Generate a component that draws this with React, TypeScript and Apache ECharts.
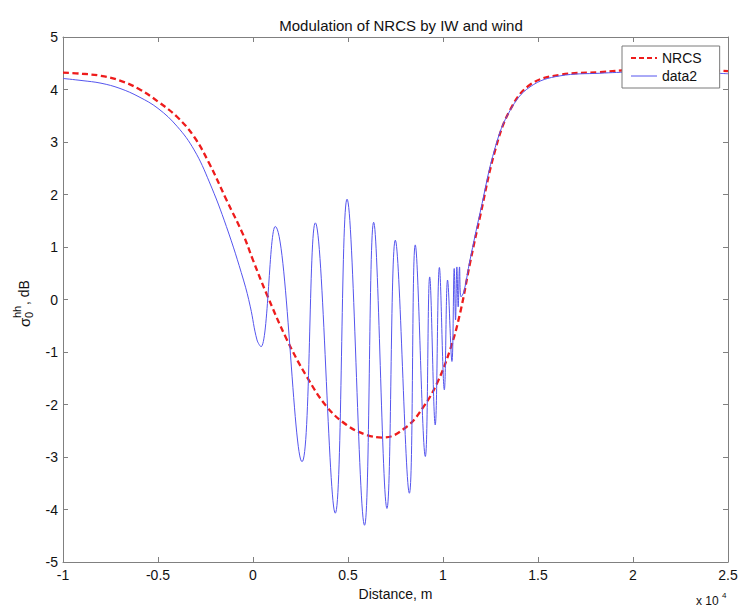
import React, { useEffect, useRef } from "react";
import * as echarts from "echarts";

// Distance in units of 1e4 m
const nrcsX = [-1.0, -0.9, -0.8, -0.7, -0.6, -0.5, -0.4, -0.31, -0.23, -0.14, -0.05, 0.0, 0.07, 0.179, 0.283, 0.388, 0.493, 0.598, 0.686, 0.81, 0.898, 0.968, 1.037, 1.09, 1.142, 1.195, 1.275, 1.353, 1.458, 1.616, 1.826, 2.0, 2.353, 2.5];
const nrcsY = [4.32, 4.3, 4.26, 4.17, 4.01, 3.77, 3.48, 3.1, 2.59, 1.9, 1.22, 0.75, 0.12, -0.77, -1.47, -2.04, -2.39, -2.58, -2.63, -2.42, -2.04, -1.6, -0.96, -0.26, 0.69, 1.58, 2.85, 3.61, 4.09, 4.28, 4.33, 4.37, 4.37, 4.35];

const data2X = [-1.0, -0.9, -0.8, -0.7, -0.6, -0.5, -0.4, -0.31, -0.23, -0.14, -0.05, -0.014, 0.021, 0.042, 0.117, 0.258, 0.328, 0.433, 0.495, 0.587, 0.635, 0.705, 0.749, 0.823, 0.854, 0.907, 0.93, 0.959, 0.981, 1.007, 1.024, 1.047, 1.059, 1.066, 1.073, 1.08, 1.087, 1.095, 1.11, 1.142, 1.195, 1.275, 1.353, 1.458, 1.616, 1.826, 2.0, 2.353, 2.5];
const data2Y = [4.21, 4.17, 4.12, 4.02, 3.86, 3.64, 3.3, 2.85, 2.24, 1.39, 0.37, -0.14, -0.77, -0.9, 1.39, -3.09, 1.46, -4.07, 1.91, -4.3, 1.47, -3.98, 1.13, -3.69, 1.04, -2.99, 0.43, -2.39, 0.61, -1.72, 0.37, -1.18, 0.59, -0.39, 0.62, -0.14, 0.62, 0.05, 0.15, 0.75, 1.65, 2.9, 3.6, 4.05, 4.26, 4.31, 4.33, 4.32, 4.3];

const xTicks = [-1, -0.5, 0, 0.5, 1, 1.5, 2, 2.5];
const xTickLabels = ["-1", "-0.5", "0", "0.5", "1", "1.5", "2", "2.5"];
const yTicks = [-5, -4, -3, -2, -1, 0, 1, 2, 3, 4, 5];
const yTickLabels = ["-5", "-4", "-3", "-2", "-1", "0", "1", "2", "3", "4", "5"];

const FONT = "Liberation Sans, Arial, sans-serif";
const AXIS_COLOR = "#808080";
const TEXT_COLOR = "#111";
const RED = "#ee1c1c";
const BLUE = "#5555ee";

function fmt(ticks: number[], labels: string[]) {
  return (v: number) => {
    const i = ticks.findIndex((t) => Math.abs(t - v) < 1e-9);
    return i >= 0 ? labels[i] : "";
  };
}

export default function App() {
  const ref = useRef<HTMLDivElement>(null);
  useEffect(() => {
    document.body.style.margin = "0";
    if (!ref.current) return;
    const chart = echarts.init(ref.current, null, { renderer: "svg" });
    const left = 63, right = 13, top = 37, bottom = 46;
    const axisCommon = {
      axisLine: { show: true, onZero: false, lineStyle: { color: AXIS_COLOR, width: 1 } },
      axisTick: { show: true, inside: true, length: 5, lineStyle: { color: AXIS_COLOR } },
      splitLine: { show: false },
    };
    chart.setOption({
      animation: false,
      backgroundColor: "#fff",
      title: {
        text: "Modulation of NRCS by IW and wind",
        left: 396,
        textAlign: "center",
        top: 13,
        textStyle: { fontFamily: FONT, fontSize: 15, fontWeight: "normal", color: TEXT_COLOR },
      },
      grid: { left, right, top, bottom, containLabel: false, outerBoundsMode: "none" },
      legend: {
        data: [
          { name: "NRCS", itemStyle: { opacity: 0 }, lineStyle: { color: RED, width: 2, type: [5, 3] } },
          { name: "data2", itemStyle: { opacity: 0 }, lineStyle: { color: BLUE, width: 1 } },
        ],
        orient: "vertical",
        left: 622,
        top: 46,
        itemWidth: 26,
        itemHeight: 12,
        itemGap: 4,
        padding: [5, 18, 5, 8],
        backgroundColor: "#fff",
        borderColor: "#7a7a7a",
        borderWidth: 1,
        borderRadius: 0,
        textStyle: { fontFamily: FONT, fontSize: 14, color: TEXT_COLOR },
      },
      xAxis: [
        {
          type: "value",
          min: -1,
          max: 2.5,
          interval: 0.5,
          position: "bottom",
          ...axisCommon,
          axisLabel: { margin: 6, fontFamily: FONT, fontSize: 14, color: TEXT_COLOR, formatter: fmt(xTicks, xTickLabels) },
          name: "Distance, m",
          nameLocation: "middle",
          nameGap: 24,
          nameTextStyle: { fontFamily: FONT, fontSize: 14, color: TEXT_COLOR },
        },
        {
          type: "value",
          min: -1,
          max: 2.5,
          interval: 0.5,
          position: "top",
          ...axisCommon,
          axisLabel: { show: false },
        },
      ],
      yAxis: [
        {
          type: "value",
          min: -5,
          max: 5,
          interval: 1,
          position: "left",
          ...axisCommon,
          axisLabel: { margin: 5, fontFamily: FONT, fontSize: 14, color: TEXT_COLOR, formatter: fmt(yTicks, yTickLabels) },
        },
        {
          type: "value",
          min: -5,
          max: 5,
          interval: 1,
          position: "right",
          ...axisCommon,
          axisLabel: { show: false },
        },
      ],
      series: [
        {
          name: "NRCS",
          type: "line",
          data: nrcsX.map((x, i) => [x, nrcsY[i]]),
          symbol: "none",
          smooth: 0.4,
          lineStyle: { color: RED, width: 2.3, type: [6, 3.5] },
          itemStyle: { color: RED },
          z: 2,
        },
        {
          name: "data2",
          type: "line",
          data: data2X.map((x, i) => [x, data2Y[i]]),
          symbol: "none",
          smooth: 0.4,
          lineStyle: { color: BLUE, width: 1 },
          itemStyle: { color: BLUE },
          z: 3,
        },
      ],
      graphic: [
        {
          type: "group",
          x: 24,
          y: 327,
          rotation: Math.PI / 2,
          children: [
            { type: "text", x: 0, y: 0, style: { text: "σ", fontFamily: FONT, fontSize: 15, fill: TEXT_COLOR, verticalAlign: "middle", align: "left" } },
            { type: "text", x: 9, y: -7, style: { text: "hh", fontFamily: FONT, fontSize: 11, fill: TEXT_COLOR, verticalAlign: "middle", align: "left" } },
            { type: "text", x: 9, y: 5, style: { text: "0", fontFamily: FONT, fontSize: 11, fill: TEXT_COLOR, verticalAlign: "middle", align: "left" } },
            { type: "text", x: 22, y: 0, style: { text: ", dB", fontFamily: FONT, fontSize: 14, fill: TEXT_COLOR, verticalAlign: "middle", align: "left" } },
          ],
        },
        {
          type: "text",
          left: 696,
          top: 595,
          style: { text: "x 10", fontFamily: FONT, fontSize: 12, fill: TEXT_COLOR },
        },
        {
          type: "text",
          left: 722,
          top: 591,
          style: { text: "4", fontFamily: FONT, fontSize: 8, fill: TEXT_COLOR },
        },
      ],
    });
    return () => chart.dispose();
  }, []);
  return <div ref={ref} style={{ width: 741, height: 608 }} />;
}
